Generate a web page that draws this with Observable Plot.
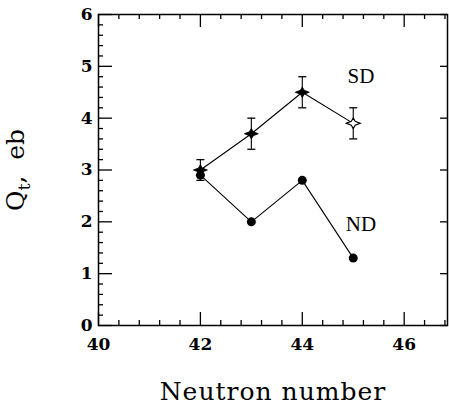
<!DOCTYPE html>
<html><head><meta charset="utf-8">
<script src="https://cdn.jsdelivr.net/npm/d3@7"></script>
<script src="https://cdn.jsdelivr.net/npm/@observablehq/plot@0.6"></script>
<style>body{margin:0;background:#fff} svg{display:block}</style>
</head><body><div id="chart"></div>
<script>
// ---- data ----
const neutrons = [42, 43, 44, 45];
const sdQ = [3.0, 3.7, 4.5, 3.9];
const sdErr = [0.2, 0.3, 0.3, 0.3];
const sdOpen = [false, false, false, true];
const ndQ = [2.9, 2.0, 2.8, 1.3];
const xMajorTicks = [40, 42, 44, 46];
const xMinorTicks = [40.4, 40.8, 41.2, 41.6, 42.4, 42.8, 43.2, 43.6, 44.4, 44.8, 45.2, 45.6, 46.4, 46.8];
const yMajorTicks = [0, 1, 2, 3, 4, 5, 6];
const yMinorTicks = [0.2,0.4,0.6,0.8,1.2,1.4,1.6,1.8,2.2,2.4,2.6,2.8,3.2,3.4,3.6,3.8,4.2,4.4,4.6,4.8,5.2,5.4,5.6,5.8];
const seriesNames = ["SD", "ND"];
const labelX = [45.15, 45.15];
const labelY = [4.8, 1.95];
const xTitle = "Neutron number";
const yTitle = "Qt, eb";

// ---- layout ----
const W = 449, H = 407, mL = 98, mR = 2, mT = 14, mB = 82;
const pw = W - mL - mR, ph = H - mT - mB;

const sd = neutrons.map((n, i) => ({n, q: sdQ[i], lo: sdQ[i] - sdErr[i], hi: sdQ[i] + sdErr[i], open: sdOpen[i]}));
const nd = neutrons.map((n, i) => ({n, q: ndQ[i]}));
const labels = seriesNames.map((t, i) => ({t, x: labelX[i], y: labelY[i]}));

const star4 = {
  draw(ctx, size) {
    const r = Math.sqrt(size / Math.PI);
    const rx = r, ry = r * 0.75, ri = r * 0.28;
    ctx.moveTo(rx, 0);
    ctx.lineTo(ri, -ri);
    ctx.lineTo(0, -ry);
    ctx.lineTo(-ri, -ri);
    ctx.lineTo(-rx, 0);
    ctx.lineTo(-ri, ri);
    ctx.lineTo(0, ry);
    ctx.lineTo(ri, ri);
    ctx.closePath();
  }
};
const cap = {
  draw(ctx, size) {
    const r = Math.sqrt(size / Math.PI);
    ctx.moveTo(-r, 0);
    ctx.lineTo(r, 0);
  }
};

const chart = Plot.plot({
  width: W, height: H,
  marginLeft: mL, marginRight: mR, marginTop: mT, marginBottom: mB,
  x: {domain: [40, 46.85]},
  y: {domain: [0, 6]},
  style: {fontFamily: "DejaVu Serif", background: "white", color: "black"},
  marks: [
    Plot.frame({stroke: "black", strokeWidth: 1.5}),
    Plot.tickX(xMajorTicks, {x: d => d, insetTop: ph - 13, stroke: "black", strokeWidth: 1.3}),
    Plot.tickX(xMinorTicks, {x: d => d, insetTop: ph - 5, stroke: "black", strokeWidth: 1.3}),
    Plot.tickX(xMajorTicks, {x: d => d, insetBottom: ph - 13, stroke: "black", strokeWidth: 1.3}),
    Plot.tickX(xMinorTicks, {x: d => d, insetBottom: ph - 5, stroke: "black", strokeWidth: 1.3}),
    Plot.tickY(yMajorTicks, {y: d => d, insetRight: pw - 14, stroke: "black", strokeWidth: 1.3}),
    Plot.tickY(yMinorTicks, {y: d => d, insetRight: pw - 5, stroke: "black", strokeWidth: 1.3}),
    Plot.tickY(yMajorTicks, {y: d => d, insetLeft: pw - 7, stroke: "black", strokeWidth: 1.3}),
    Plot.axisX(xMajorTicks, {tickSize: 0, tickPadding: 12, fontSize: 17, fontWeight: "bold", label: null, tickFormat: d => String(d)}),
    Plot.axisY(yMajorTicks, {tickSize: 0, tickPadding: 6, fontSize: 17, fontWeight: "bold", label: null, tickFormat: d => String(d)}),
    Plot.axisX([], {tickSize: 0, label: xTitle, labelAnchor: "center", labelArrow: false, labelOffset: 74, fontSize: 25}),
    Plot.axisY([], {tickSize: 0, label: yTitle, labelAnchor: "center", labelArrow: false, labelOffset: 92, fontSize: 25}),
    Plot.line(nd, {x: "n", y: "q", stroke: "black", strokeWidth: 1.1}),
    Plot.line(sd, {x: "n", y: "q", stroke: "black", strokeWidth: 1.1}),
    Plot.ruleX(sd, {x: "n", y1: "lo", y2: "hi", stroke: "black", strokeWidth: 1.1}),
    Plot.dot(sd, {x: "n", y: "lo", symbol: cap, r: 4, stroke: "black", strokeWidth: 1.3}),
    Plot.dot(sd, {x: "n", y: "hi", symbol: cap, r: 4, stroke: "black", strokeWidth: 1.3}),
    Plot.dot(nd, {x: "n", y: "q", r: 4.5, fill: "black"}),
    Plot.dot(sd.filter(d => !d.open), {x: "n", y: "q", symbol: star4, r: 7, fill: "black", stroke: "black", strokeWidth: 0.8}),
    Plot.dot(sd.filter(d => d.open), {x: "n", y: "q", symbol: star4, r: 7, fill: "white", stroke: "black", strokeWidth: 1.2}),
    Plot.text(labels, {x: "x", y: "y", text: "t", fontFamily: "Liberation Serif", fontSize: 21})
  ]
});
document.getElementById("chart").appendChild(chart);

// subscript t in the y title, wider spacing like the reference
d3.select(chart).selectAll("text").filter(function() { return this.textContent === yTitle; })
  .each(function() {
    const t = d3.select(this);
    t.text(null);
    t.append("tspan").text("Q");
    t.append("tspan").attr("dy", "0.3em").attr("font-size", "0.7em").text("t");
    t.append("tspan").attr("dy", "-0.21em").text(",\u00a0\u00a0eb");
  });
d3.select(chart).selectAll("text").filter(function() { return this.textContent === xTitle; })
  .style("letter-spacing", "1px");
</script>
</body></html>
